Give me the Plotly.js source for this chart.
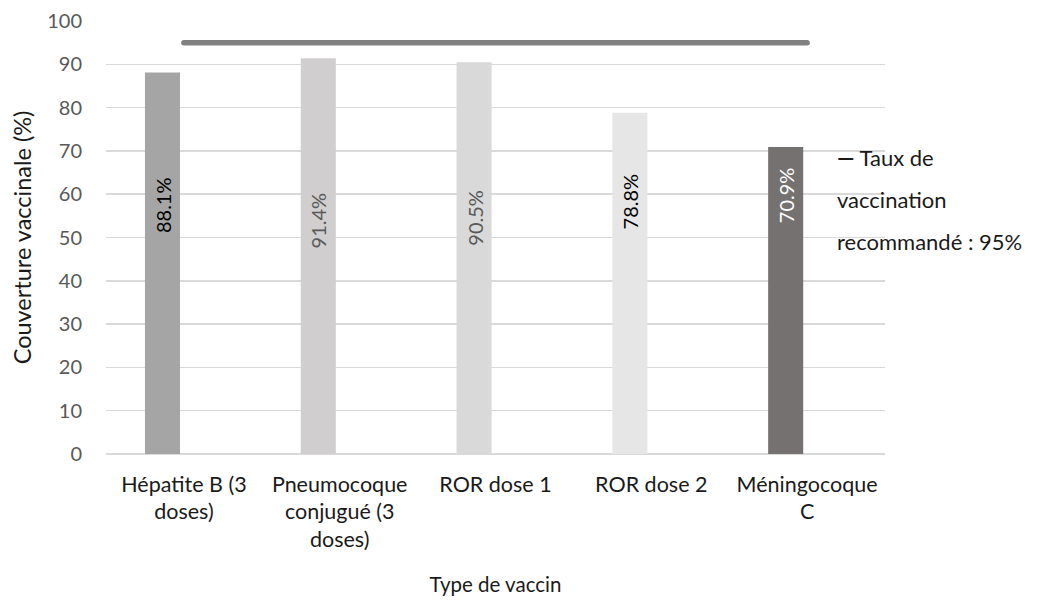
<!DOCTYPE html>
<html>
<head>
<meta charset="utf-8">
<script src="https://cdn.plot.ly/plotly-3.0.1.min.js"></script>
<style>
  html, body { margin: 0; padding: 0; background: #fff; }
  #chart { width: 1037px; height: 600px; }
  .scatterlayer path.js-line { stroke-linecap: round; }
</style>
</head>
<body>
<div id="chart"></div>
<script>
// ---- Data ----
const categories = ["Hépatite B (3 doses)", "Pneumocoque conjugué (3 doses)", "ROR dose 1", "ROR dose 2", "Méningocoque C"];
const tickLabels = ["Hépatite B (3<br>doses)", "Pneumocoque<br>conjugué (3<br>doses)", "ROR dose 1", "ROR dose 2", "Méningocoque<br>C"];
const coverage = [88.1, 91.4, 90.5, 78.8, 70.9];
const recommended = [95, 95, 95, 95, 95];
const legendLines = ["<b>—</b> Taux de", "vaccination", "recommandé : 95%"];

// ---- Styles ----
const barColors = ["#a5a5a5", "#d0cece", "#d9d9d9", "#e7e6e6", "#767171"];
const labelColors = ["#000000", "#595959", "#595959", "#000000", "#ffffff"];
const labelAnchor = [57.6, 54.0, 54.6, 58.3, 59.7]; // vertical placement of rotated value labels
const FONT = "Lato, 'Open Sans', sans-serif";
const barOffset = -0.25, barWidth = 0.225;

const traces = [
  {
    type: "bar",
    x: categories,
    y: coverage,
    offset: barOffset,
    width: barWidth,
    marker: { color: barColors },
    showlegend: false,
    hoverinfo: "x+y"
  },
  {
    type: "scatter",
    mode: "lines",
    x: categories,
    y: recommended,
    line: { color: "#808080", width: 5.5 },
    showlegend: false,
    name: "Taux de vaccination recommandé : 95%"
  }
];

const annotations = coverage.map((v, i) => ({
  x: i + barOffset + barWidth / 2,
  y: labelAnchor[i],
  xref: "x", yref: "y",
  text: v.toFixed(1) + "%",
  textangle: -90,
  showarrow: false,
  font: { family: FONT, size: 20, color: labelColors[i] }
}));

const legendY = [0.684, 0.587, 0.490];
legendLines.forEach((t, i) => {
  annotations.push({
    x: 0.936, y: legendY[i],
    xref: "paper", yref: "paper",
    xanchor: "left", yanchor: "middle",
    text: t,
    showarrow: false,
    font: { family: FONT, size: 22, color: "#1a1a1a" }
  });
});

const layout = {
  width: 1037,
  height: 600,
  margin: { l: 106, r: 152, t: 21, b: 146 },
  paper_bgcolor: "#ffffff",
  plot_bgcolor: "#ffffff",
  font: { family: FONT, color: "#595959" },
  showlegend: false,
  xaxis: {
    type: "category",
    tickvals: categories,
    ticktext: tickLabels,
    tickfont: { family: FONT, size: 21.5, color: "#1a1a1a" },
    ticks: "",
    ticklabelstandoff: 15,
    showgrid: false,
    showline: false,
    zeroline: false,
    range: [-0.5, 4.5],
    title: { text: "Type de vaccin", font: { family: FONT, size: 20.5, color: "#1a1a1a" }, standoff: 26 }
  },
  yaxis: {
    range: [0, 100],
    dtick: 10,
    tick0: 0,
    showgrid: true,
    gridcolor: "#d9d9d9",
    gridwidth: 1.5,
    zeroline: true,
    zerolinecolor: "#d9d9d9",
    zerolinewidth: 1.5,
    showline: false,
    ticks: "",
    ticklabelstandoff: 23,
    tickfont: { family: FONT, size: 20, color: "#595959" },
    title: { text: "Couverture vaccinale (%)", font: { family: FONT, size: 23.5, color: "#1a1a1a" }, standoff: 8 }
  },
  annotations: annotations
};

Plotly.newPlot("chart", traces, layout, { displayModeBar: false, staticPlot: true });
</script>
</body>
</html>
